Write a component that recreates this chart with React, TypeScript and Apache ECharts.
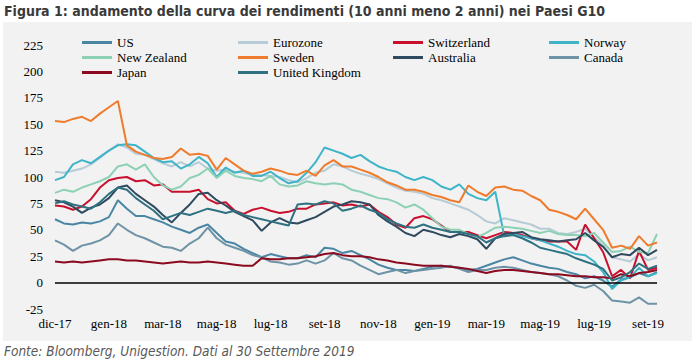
import React, { useEffect, useRef } from "react";
import * as echarts from "echarts";

const tickLabels = ["dic-17", "gen-18", "mar-18", "mag-18", "lug-18", "set-18", "nov-18", "gen-19", "mar-19", "mag-19", "lug-19", "set-19"];
const labelStep = 6;

const us = [60,56,55,57,56,58,62,78,70,63, 63,60,57,53,50,47,52,55,47,39, 37,32,28,24,27,25,23,23,26,24, 33,32,28,30,26,22,17,14,12,12, 11,13,15,16,15,14,12,13,16,19, 22,24,21,18,16,14,13,10,8,4, 6,2,-4,3,5,9,6,10];
const eurozone = [105,104,106,108,112,118,125,131,128,122, 121,117,113,110,114,110,114,108,106,107, 105,104,102,102,101,100,97,95,99,104, 106,112,110,106,103,101,98,94,90,87, 86,84,80,78,75,72,69,64,58,56, 61,59,57,55,51,51,47,46,48,51, 43,35,24,22,20,27,21,24];
const switzerland = [73,72,69,72,79,90,97,99,100,96, 97,92,93,86,86,86,88,79,75,76, 68,65,69,71,68,66,67,70,70,74, 75,76,73,74,72,74,67,62,55,52, 61,63,60,54,48,48,48,45,42,45, 48,47,45,42,40,39,39,39,31,55, 42,29,6,12,4,30,12,14];
const norway = [97,100,112,116,113,119,125,130,131,130, 124,118,114,115,108,112,119,113,100,109, 104,106,101,101,105,99,94,96,104,114, 128,125,122,118,121,115,110,107,105,100, 97,100,97,91,88,93,84,80,78,86, 44,46,44,42,40,37,34,30,27,26, 20,10,-6,2,5,14,6,9];
const newZealand = [85,88,86,90,93,96,100,110,112,107, 112,100,92,88,91,99,102,108,99,106, 101,99,98,96,101,93,91,92,96,94, 93,94,93,88,86,83,80,79,76,71, 74,69,61,53,50,50,46,43,47,52, 53,52,51,49,47,49,46,45,45,44, 47,38,29,30,34,29,28,46];
const sweden = [153,152,155,157,153,160,166,172,130,124, 121,118,117,119,127,121,122,120,107,118, 112,106,103,105,108,106,103,102,106,101, 111,116,110,110,107,104,100,95,92,88, 88,86,83,81,78,76,92,86,82,90, 91,88,87,82,78,69,67,64,60,70, 60,50,33,35,32,44,35,38];
const australia = [78,76,72,66,71,74,80,90,92,84, 78,72,64,57,66,74,84,85,78,73, 67,63,59,49,57,61,57,56,59,62, 67,72,74,77,76,74,64,58,53,47, 44,50,48,45,43,46,44,41,32,42, 46,47,48,43,41,40,39,40,41,47, 40,34,24,27,26,33,26,31];
const canada = [40,36,30,35,37,40,45,56,50,45, 42,38,34,33,30,37,42,52,42,36, 33,30,26,24,20,19,17,18,21,18, 21,28,23,21,16,12,8,10,12,9, 11,12,13,14,16,13,10,12,12,14, 15,14,12,10,9,8,6,2,-3,-5, -2,-8,-17,-18,-19,-14,-20,-20];
const japan = [20,19,20,19,20,21,22,22,21,21, 20,19,18,19,20,19,19,20,19,18, 17,16,16,23,22,22,23,23,24,25, 27,28,26,25,25,24,22,21,19,18, 17,16,16,16,15,14,13,11,9,11, 12,12,11,10,9,8,8,7,6,6, 5,5,4,8,6,9,10,12];
const unitedKingdom = [75,77,74,72,70,76,84,90,88,80, 74,68,60,63,66,64,67,70,68,66, 68,64,62,60,58,56,54,74,75,74, 77,75,68,70,73,69,66,60,56,53, 52,55,52,50,48,48,46,44,38,42, 44,45,42,38,33,31,29,27,23,20, 17,13,2,5,10,18,13,16];

const seriesNames = ["US", "Eurozone", "Switzerland", "Norway", "New Zealand", "Sweden", "Australia", "Canada", "Japan", "United Kingdom"];
const seriesData = [us, eurozone, switzerland, norway, newZealand, sweden, australia, canada, japan, unitedKingdom];
const seriesColors = ["#4a86a4", "#b5ccd6", "#c8102e", "#3fb4c8", "#8dd1b4", "#ef7b2d", "#2f4a5e", "#6e93a6", "#8b0a1f", "#2e7180"];

const legendColumns = [
  ["US", "New Zealand", "Japan"],
  ["Eurozone", "Sweden", "United Kingdom"],
  ["Switzerland", "Australia"],
  ["Norway", "Canada"],
];
const legendLefts = [82, 238, 393, 549];

export default function App() {
  const ref = useRef<HTMLDivElement>(null);
  useEffect(() => {
    const chart = echarts.init(ref.current!, null, { renderer: "svg" });
    const categories = us.map((_, i) => "p" + i);
    const serif = "Times New Roman, Liberation Serif, DejaVu Serif, serif";
    const option: any = {
      animation: false,
      graphic: [
        { type: "rect", z: -10, shape: { x: 3, y: 22, width: 689, height: 319 }, style: { fill: "#f2f2f2" }, silent: true },
        { type: "text", x: 4, y: 4, style: { text: "Figura 1: andamento della curva dei rendimenti (10 anni meno 2 anni) nei Paesi G10", font: "bold 14px DejaVu Sans Condensed", fill: "#3a3a3a" } },
        { type: "text", x: 4, y: 344, style: { text: "Fonte: Bloomberg, Unigestion. Dati al 30 Settembre 2019", font: "italic 13.5px DejaVu Sans Condensed", fill: "#595959" } },
      ],
      legend: legendColumns.map((col, k) => ({
        data: col,
        left: legendLefts[k],
        top: 36,
        orient: "vertical",
        icon: "rect",
        itemWidth: 30,
        itemHeight: 3,
        itemGap: 2,
        padding: 0,
        selectedMode: false,
        textStyle: { fontFamily: serif, fontSize: 13, color: "#000" },
      })),
      grid: { left: 55, right: 40, top: 45, bottom: 53, containLabel: false },
      xAxis: {
        type: "category",
        data: categories,
        boundaryGap: false,
        axisLine: { show: false },
        axisTick: { show: false },
        splitLine: { show: false },
        axisLabel: {
          interval: labelStep - 1,
          margin: 8,
          fontFamily: serif,
          fontSize: 13,
          color: "#000",
          formatter: (_v: string, idx: number) => tickLabels[Math.round(idx / labelStep)] ?? "",
        },
      },
      yAxis: {
        type: "value",
        min: -25,
        max: 225,
        interval: 25,
        axisLine: { show: false },
        axisTick: { show: false },
        splitLine: { show: false },
        axisLabel: { margin: 12, fontFamily: serif, fontSize: 13, color: "#000" },
      },
      series: seriesNames.map((name, k) => ({
        name,
        type: "line",
        data: seriesData[k],
        showSymbol: false,
        symbol: "none",
        lineStyle: { width: 2, color: seriesColors[k] },
        itemStyle: { color: seriesColors[k] },
        ...(k === 0
          ? {
              markLine: {
                silent: true,
                symbol: "none",
                label: { show: false },
                lineStyle: { color: "#000", width: 1.5, type: "solid" },
                data: [{ yAxis: 0 }],
              },
            }
          : {}),
      })),
    };
    chart.setOption(option);
    return () => chart.dispose();
  }, []);
  return <div ref={ref} style={{ position: "absolute", left: 0, top: 0, width: 697, height: 362, background: "#fff" }} />;
}
